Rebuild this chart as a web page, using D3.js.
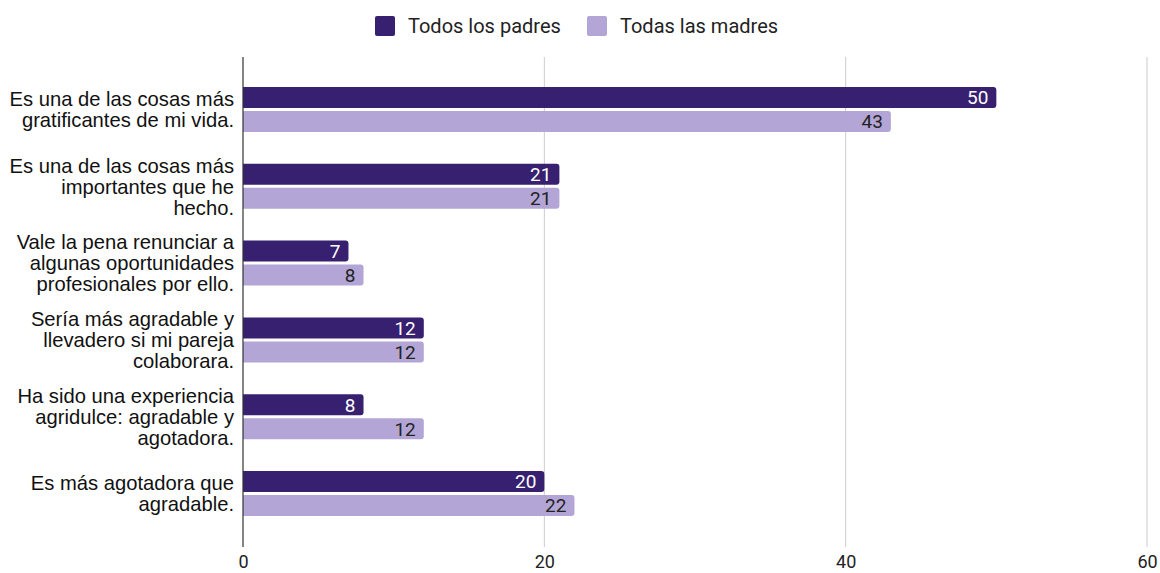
<!DOCTYPE html>
<html>
<head>
<meta charset="utf-8">
<script src="https://cdn.jsdelivr.net/npm/d3@7"></script>
<style>
  body { margin: 0; background: #fff; }
  svg { display: block; }
</style>
</head>
<body>
<svg id="chart" width="1160" height="573"></svg>
<script>
// Categories (each entry is a list of wrapped label lines)
const categories = [
  ["Es una de las cosas más", "gratificantes de mi vida."],
  ["Es una de las cosas más", "importantes que he", "hecho."],
  ["Vale la pena renunciar a", "algunas oportunidades", "profesionales por ello."],
  ["Sería más agradable y", "llevadero si mi pareja", "colaborara."],
  ["Ha sido una experiencia", "agridulce: agradable y", "agotadora."],
  ["Es más agotadora que", "agradable."]
];
const seriesNames = ["Todos los padres", "Todas las madres"];
const padres = [50, 21, 7, 12, 8, 20];
const madres = [43, 21, 8, 12, 12, 22];
const xTicks = [0, 20, 40, 60];

const colors = ["#37206f", "#b3a6d6"];
const labelColors = ["#ffffff", "#222222"];

const svg = d3.select("#chart");
const left = 243, right = 1147;
const plotTop = 57, plotBottom = 547;
const bandTop = 71, bandBottom = 532;

const x = d3.scaleLinear().domain([0, 60]).range([left, right]);
const y = d3.scaleBand().domain(d3.range(categories.length)).range([bandTop, bandBottom]).padding(0);
const barH = 21, barGap = 3;

// Vertical gridlines
svg.append("g").selectAll("line").data(xTicks.filter(t => t !== 0)).join("line")
  .attr("x1", d => x(d)).attr("x2", d => x(d))
  .attr("y1", plotTop).attr("y2", plotBottom)
  .attr("stroke", "#cccccc").attr("stroke-width", 1);

// Bottom tick labels via d3 axis
const xAxis = d3.axisBottom(x).tickValues(xTicks).tickSize(0).tickPadding(8);
const gx = svg.append("g").attr("transform", `translate(0,${plotBottom})`).call(xAxis);
gx.select(".domain").remove();
gx.selectAll("text").attr("font-family", "Roboto, sans-serif").attr("font-size", 18).attr("fill", "#222");

// Bars
const series = [padres, madres];
const rounded = (x0, y0, w, h, r) => {
  r = Math.min(r, w);
  return `M${x0},${y0}H${x0 + w - r}Q${x0 + w},${y0} ${x0 + w},${y0 + r}V${y0 + h - r}Q${x0 + w},${y0 + h} ${x0 + w - r},${y0 + h}H${x0}Z`;
};
series.forEach((vals, si) => {
  const g = svg.append("g");
  vals.forEach((v, i) => {
    const cy = y(i) + y.bandwidth() / 2;
    const y0 = si === 0 ? cy - barGap / 2 - barH : cy + barGap / 2;
    g.append("path")
      .attr("d", rounded(x(0), y0, x(v) - x(0), barH, 3))
      .attr("fill", colors[si]);
    g.append("text")
      .attr("x", x(v) - 8).attr("y", y0 + barH / 2)
      .attr("dy", "0.36em").attr("text-anchor", "end")
      .attr("font-family", "Roboto, sans-serif").attr("font-size", 19)
      .attr("fill", labelColors[si])
      .text(v);
  });
});

// Axis line at zero
svg.append("line").attr("x1", x(0)).attr("x2", x(0))
  .attr("y1", plotTop).attr("y2", plotBottom)
  .attr("stroke", "#333").attr("stroke-width", 1.2);

// Category labels
const lineH = 21;
const cg = svg.append("g");
categories.forEach((lines, i) => {
  const cy = y(i) + y.bandwidth() / 2;
  const t = cg.append("text")
    .attr("text-anchor", "end")
    .attr("font-family", "'Liberation Sans', Arial, sans-serif")
    .attr("font-size", 20.2).attr("fill", "#111");
  lines.forEach((ln, k) => {
    t.append("tspan").attr("x", 234)
      .attr("y", cy + (k - (lines.length - 1) / 2) * lineH)
      .attr("dy", "0.36em").text(ln);
  });
});

// Legend
const legend = svg.append("g");
const legendX = [375, 587];
seriesNames.forEach((name, i) => {
  legend.append("rect").attr("x", legendX[i]).attr("y", 16)
    .attr("width", 20).attr("height", 20).attr("rx", 2)
    .attr("fill", colors[i]);
  legend.append("text").attr("x", legendX[i] + 33).attr("y", 26)
    .attr("dy", "0.36em")
    .attr("font-family", "Roboto, sans-serif").attr("font-size", 20)
    .attr("fill", "#222").text(name);
});
</script>
</body>
</html>
